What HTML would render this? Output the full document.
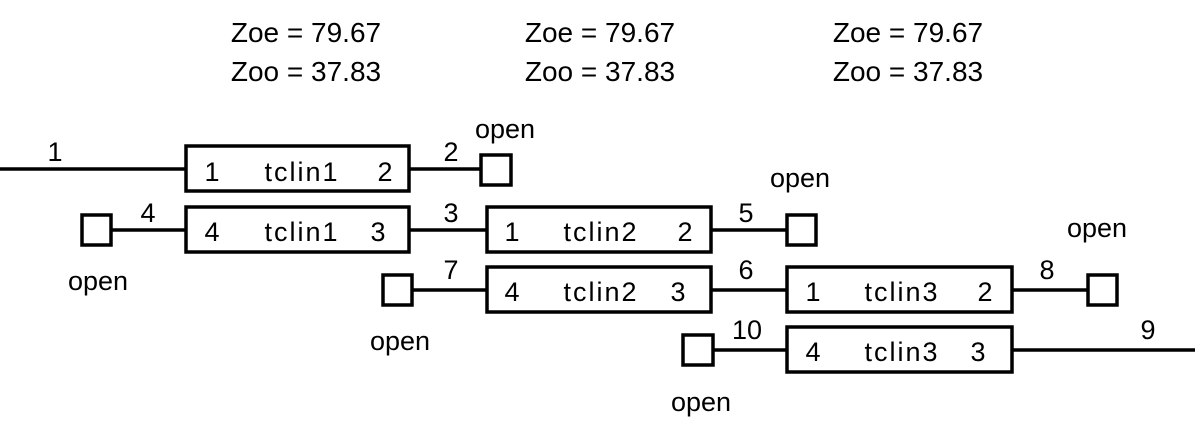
<!DOCTYPE html>
<html><head><meta charset="utf-8"><style>
html,body{margin:0;padding:0;background:#fff;}
svg{display:block;}
text{font-family:"Liberation Sans",sans-serif;font-size:27px;fill:#000;}
.big{font-size:28px;}
.t{letter-spacing:2px;}
</style></head><body>
<svg width="1195" height="429" viewBox="0 0 1195 429" xmlns="http://www.w3.org/2000/svg">
<g fill="none" stroke="#000" stroke-width="3.5">
<line x1="0" y1="169" x2="186" y2="169"/>
<rect x="186" y="146" width="223" height="45"/>
<line x1="409" y1="169" x2="481" y2="169"/>
<rect x="481" y="155" width="30" height="30"/>
<rect x="82" y="215" width="29" height="30"/>
<line x1="111" y1="230" x2="186" y2="230"/>
<rect x="186" y="207" width="223" height="45"/>
<line x1="409" y1="230" x2="487" y2="230"/>
<rect x="487" y="207" width="224" height="45"/>
<line x1="711" y1="230" x2="787" y2="230"/>
<rect x="787" y="215" width="29" height="30"/>
<rect x="383" y="275" width="29" height="30"/>
<line x1="412" y1="290" x2="487" y2="290"/>
<rect x="487" y="267" width="224" height="45"/>
<line x1="711" y1="290" x2="787" y2="290"/>
<rect x="787" y="267" width="225" height="45"/>
<line x1="1012" y1="290" x2="1088" y2="290"/>
<rect x="1088" y="275" width="29" height="30"/>
<rect x="683" y="335" width="30" height="30"/>
<line x1="713" y1="350" x2="787" y2="350"/>
<rect x="787" y="327" width="225" height="45"/>
<line x1="1012" y1="350" x2="1195" y2="350"/>
</g>
<g text-anchor="middle">
<text class="big" x="306" y="42">Zoe = 79.67</text>
<text class="big" x="306" y="81">Zoo = 37.83</text>
<text class="big" x="600" y="42">Zoe = 79.67</text>
<text class="big" x="600" y="81">Zoo = 37.83</text>
<text class="big" x="908" y="42">Zoe = 79.67</text>
<text class="big" x="908" y="81">Zoo = 37.83</text>

<text x="212" y="181">1</text><text class="t" x="302" y="181">tclin1</text><text x="385" y="181">2</text>
<text x="212" y="241">4</text><text class="t" x="302" y="241">tclin1</text><text x="378" y="241">3</text>
<text x="512" y="241">1</text><text class="t" x="601" y="241">tclin2</text><text x="685" y="241">2</text>
<text x="512" y="301">4</text><text class="t" x="601" y="301">tclin2</text><text x="678" y="301">3</text>
<text x="813" y="301">1</text><text class="t" x="902" y="301">tclin3</text><text x="985" y="301">2</text>
<text x="813" y="361">4</text><text class="t" x="902" y="361">tclin3</text><text x="978" y="361">3</text>

<text x="55" y="161">1</text>
<text x="451" y="161">2</text>
<text x="505" y="138">open</text>
<text x="148" y="222">4</text>
<text x="451" y="222">3</text>
<text x="98" y="290">open</text>
<text x="746" y="222">5</text>
<text x="800" y="187">open</text>
<text x="451" y="279">7</text>
<text x="400" y="350">open</text>
<text x="746" y="279">6</text>
<text x="1047" y="279">8</text>
<text x="1097" y="237">open</text>
<text x="747" y="339">10</text>
<text x="701" y="411">open</text>
<text x="1148" y="339">9</text>
</g>
</svg>
</body></html>
